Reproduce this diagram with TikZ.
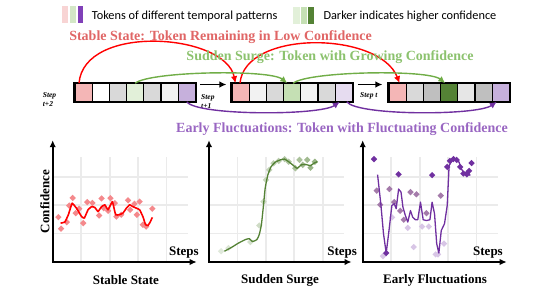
\documentclass[tikz,border=0pt]{standalone}
\usepackage{xcolor}
\usepackage{fontspec}
\setmainfont{Liberation Serif}
\newfontfamily\legfont{Carlito}
\usepackage{tikz}
\usetikzlibrary{arrows.meta}

\definecolor{tokred}{HTML}{F4B6B6}
\definecolor{tokgrn}{HTML}{C5E0B4}
\definecolor{tokgrnlt}{HTML}{E2F0D9}
\definecolor{tokgrndk}{HTML}{548235}
\definecolor{tokpur}{HTML}{C6B0DC}
\definecolor{tokpurlt}{HTML}{E6DCF0}
\definecolor{tokgA}{HTML}{F2F2F2}
\definecolor{tokgB}{HTML}{D9D9D9}
\definecolor{tokgC}{HTML}{BFBFBF}
\definecolor{tokgD}{HTML}{E6E6E6}
\definecolor{stabred}{HTML}{E06666}
\definecolor{surgegrn}{HTML}{8CC26E}
\definecolor{arcgrn}{HTML}{70AD47}
\definecolor{flucpur}{HTML}{9966C2}
\definecolor{linepur}{HTML}{7030A0}
\definecolor{midpur}{HTML}{A47BAA}
\definecolor{ltpur}{HTML}{D8C6E6}
\definecolor{dotred}{HTML}{F4898C}
\definecolor{gridgray}{HTML}{EBEBEB}
\definecolor{legpink}{HTML}{F8D4D4}
\definecolor{leggrn}{HTML}{D3E7C6}
\definecolor{legpur}{HTML}{8040B8}

\begin{document}
\begin{tikzpicture}[x=1pt, y=-1pt, >={Latex[length=7pt,width=6.5pt]},
tok/.style={draw, line width=1.1pt, minimum width=17.2pt, minimum height=17.5pt, inner sep=0pt},
frame/.style={draw, line width=2pt},
title/.style={font=\fontsize{14}{16}\selectfont\bfseries, inner sep=0pt},
steplab/.style={font=\fontsize{7.5}{9}\selectfont\bfseries\itshape, align=left, inner sep=0pt, anchor=west},
legtext/.style={font=\legfont\fontsize{12.3}{14}\selectfont, anchor=west, inner sep=0pt},
axlab/.style={font=\fontsize{13}{15}\selectfont\bfseries, inner sep=0pt},
stab/.style={->, red, line width=1.4pt}, surge/.style={->, arcgrn, line width=1.4pt}, fluc/.style={->, linepur, line width=1.4pt},
gridln/.style={gridgray, line width=1.8pt}, axisln/.style={<->, line width=1.8pt}]
\useasboundingbox (0,0) rectangle (548,288);
% legend
\fill[legpink] (61.7,6) rectangle (67.5,22.7); \fill[leggrn] (69.7,6) rectangle (75.5,22.7); \fill[legpur] (77.7,6) rectangle (83.3,22.7);
\node[legtext] (legA) at (91.7,16) {Tokens of different temporal patterns};
\fill[tokgrnlt] (293.3,7.3) rectangle (300,24); \fill[tokgrn] (300.7,7.3) rectangle (306.7,24); \fill[tokgrndk] (308.3,7.3) rectangle (314,24);
\node[legtext] (legB) at (323.3,16.7) {Darker indicates higher confidence};
% token rows
\foreach \c [count=\i] in {tokred,white,tokgB,tokgrnlt,tokgB,tokgA,tokpur} \node[tok, fill=\c] (a\i) at ({66.4+17.2*\i},92.5) {};
\foreach \c [count=\i] in {tokred,tokgA,tokgB,tokgrn,tokgA,tokgB,tokpurlt} \node[tok, fill=\c] (b\i) at ({223.4+17.2*\i},92.5) {};
\foreach \c [count=\i] in {tokred,tokgB,tokgC,tokgrndk,tokgD,tokgC,tokpur} \node[tok, fill=\c] (c\i) at ({380.4+17.2*\i},92.5) {};
\draw[frame] (a1.north west) rectangle (a7.south east); \draw[frame] (b1.north west) rectangle (b7.south east); \draw[frame] (c1.north west) rectangle (c7.south east);
\draw[->, line width=1.4pt] ([xshift=4pt,yshift=8pt]a7.east) -- ([xshift=-5pt,yshift=8pt]b1.west);
\draw[->, line width=1.4pt] ([xshift=5pt,yshift=8pt]b7.east) -- ([xshift=-6pt,yshift=8pt]c1.west);
\node[steplab] (stepA) at (42.7,99.5) {Step\\t+2};
\node[steplab] (stepB) at (201,101.5) {Step\\t+1};
\node[steplab] (stepC) at (360,96) {Step t};
% transitions
\draw[stab] ([xshift=-4.6pt]a1.north) .. controls +(5,-60) and +(-10,-50) .. ([xshift=4pt]b1.north west);
\draw[stab] ([xshift=-0.6pt]b1.north) .. controls +(5,-54) and +(-20,-52) .. ([xshift=2pt]c1.north);
\draw[surge] (a4.north) .. controls +(15,-12) and +(-17,-14) .. ([xshift=-5pt]b4.north);
\draw[surge] ([xshift=1pt]b4.north) .. controls +(15,-12) and +(-17,-14) .. ([xshift=-4pt]c4.north);
\draw[fluc] (a7.south) .. controls +(10,14) and +(-20,14) .. ([xshift=-4pt]b7.south);
\draw[fluc] ([xshift=3pt]b7.south) .. controls +(10,14) and +(-20,14) .. ([xshift=-4pt]c7.south);
\node[title, text=stabred] (ttlA) at (220.5,37.5) {Stable State: Token Remaining in Low Confidence};
\node[title, text=surgegrn] (ttlB) at (330,57) {Sudden Surge: Token with Growing Confidence};
\node[title, text=flucpur] (ttlC) at (342,128.7) {Early Fluctuations: Token with Fluctuating Confidence};
% plots
\begin{scope}[shift={(52.7,262)}, x=27pt, y=26.25pt]
\draw[gridln] (0,0) grid (5,4);
\foreach \x/\y in {0.21/1.71,0.31/1.27,0.52/1.52,0.61/2.15,0.74/2.44,0.85/1.86,0.98/2.03,1.13/1.48,1.28/2.28,1.47/2.25,1.72/1.77,1.81/2.42,1.89/2.05,2.05/1.95,2.14/2.43,2.30/2.24,2.36/1.73,2.54/1.80,2.79/2.35,2.87/1.99,3.03/2.22,3.12/1.80,3.22/2.30,3.34/1.42,3.46/1.35,3.69/2.03}
  \fill[dotred] (\x,\y) +(0,3.2pt) -- +(3.2pt,0) -- +(0,-3.2pt) -- +(-3.2pt,0) -- cycle;
\draw[red, line width=1.6pt, line join=round] plot[smooth, tension=0.15] coordinates {(0.29,1.48) (0.45,1.52) (0.58,1.80) (0.72,2.24) (0.88,2.05) (1.07,1.73) (1.17,1.67) (1.31,1.99) (1.44,2.11) (1.56,2.08) (1.68,1.92) (1.81,2.11) (1.93,2.18) (2.05,1.99) (2.21,2.30) (2.33,1.80) (2.46,1.80) (2.60,1.86) (2.73,2.05) (2.85,2.18) (2.97,2.11) (3.10,2.05) (3.22,1.99) (3.34,1.73) (3.44,1.42) (3.53,1.39) (3.61,1.52) (3.69,1.70)};
\draw[axisln] (0,4.64) -- (0,0) -- (5.33,0);
\node[axlab, rotate=90] (confA) at (-0.29,2.3) {Confidence};
\node[axlab] (stepsA) at (4.86,0.34) {Steps};
\node[axlab] (capA) at (2.71,-0.69) {Stable State};
\end{scope}
\begin{scope}[shift={(209,262)}, x=27pt, y=26.25pt]
\draw[gridln] (0,0) grid (5,4);
\foreach \x/\y/\p in {0.45/0.41/18,0.72/0.53/20,1.53/0.76/25,1.86/1.39/28,2.02/2.30/30,2.11/3.13/32,2.23/3.51/35,2.39/3.76/38,2.58/3.85/40,2.80/3.92/45,2.95/3.82/45,3.20/3.57/50,3.35/3.89/50,3.47/3.70/55,3.64/3.89/55,3.76/3.59/60,3.92/3.82/60}
  \fill[tokgrndk!\p!white] (\x,\y) +(0,3.2pt) -- +(3.2pt,0) -- +(0,-3.2pt) -- +(-3.2pt,0) -- cycle;
\draw[tokgrndk, line width=1.3pt, line join=round] plot[smooth, tension=0.3] coordinates {(0.57,0.41) (0.84,0.56) (1.09,0.72) (1.34,0.85) (1.49,0.89) (1.61,0.78) (1.77,0.85) (1.86,1.04) (1.94,1.42) (2.02,2.18) (2.08,2.81) (2.18,3.32) (2.30,3.63) (2.45,3.80) (2.64,3.89) (2.80,3.92) (2.95,3.82) (3.10,3.70) (3.26,3.57) (3.42,3.70) (3.57,3.72) (3.76,3.67) (3.88,3.76) (4.01,3.82)};
\draw[axisln] (0,4.64) -- (0,0) -- (5.28,0);
\node[axlab] (stepsB) at (4.93,0.34) {Steps};
\node[axlab] (capB) at (2.63,-0.69) {Sudden Surge};
\end{scope}
\begin{scope}[shift={(362.7,262)}, x=27pt, y=26.25pt]
\draw[gridln] (0,0) grid (5,4);
\foreach \x/\y/\c in {0.42/3.92/linepur,0.52/2.72/midpur,0.65/2.18/midpur,0.75/0.22/ltpur,0.87/0.34/linepur,0.99/2.78/midpur,1.09/1.70/ltpur,1.17/2.28/midpur,1.33/3.34/linepur,1.39/1.95/midpur,1.52/1.61/midpur,1.67/1.30/ltpur,1.77/2.66/midpur,1.99/2.58/midpur,1.89/0.57/ltpur,2.20/1.35/ltpur,2.36/1.86/midpur,2.45/1.35/ltpur,2.57/3.31/linepur,2.70/0.29/ltpur,2.79/0.29/ltpur,2.89/2.53/midpur,3.01/0.70/ltpur,3.13/3.62/linepur,3.23/3.85/linepur,3.36/3.92/linepur,3.48/3.89/linepur,3.61/3.62/linepur,3.73/3.37/linepur,3.86/3.34/linepur,3.94/3.47/linepur,4.03/3.77/linepur}
  \fill[\c] (\x,\y) +(0,3.2pt) -- +(3.2pt,0) -- +(0,-3.2pt) -- +(-3.2pt,0) -- cycle;
\draw[linepur, line width=1.3pt, line join=round] plot coordinates {(0.55,3.33) (0.67,2.22) (0.77,1.08) (0.87,0.34) (0.96,1.08) (1.08,2.15) (1.17,2.22) (1.24,2.03) (1.33,2.78) (1.42,2.66) (1.49,2.09) (1.58,1.77) (1.67,1.52) (1.77,1.96) (1.85,1.71) (1.95,1.61) (2.04,1.61) (2.14,2.28) (2.24,1.61) (2.36,1.58) (2.49,1.61) (2.57,2.28) (2.66,1.84) (2.74,0.70) (2.82,0.34) (2.91,1.20) (3.03,1.46) (3.13,2.15) (3.20,3.67) (3.32,3.89) (3.45,3.92) (3.57,3.80) (3.66,3.54) (3.76,3.37) (3.88,3.47) (3.98,3.29)};
\draw[axisln] (0,4.64) -- (0,0) -- (5.33,0);
\node[axlab] (stepsC) at (4.64,0.34) {Steps};
\node[axlab] (capC) at (2.68,-0.69) {Early Fluctuations};
\end{scope}
\end{tikzpicture}
\end{document}
